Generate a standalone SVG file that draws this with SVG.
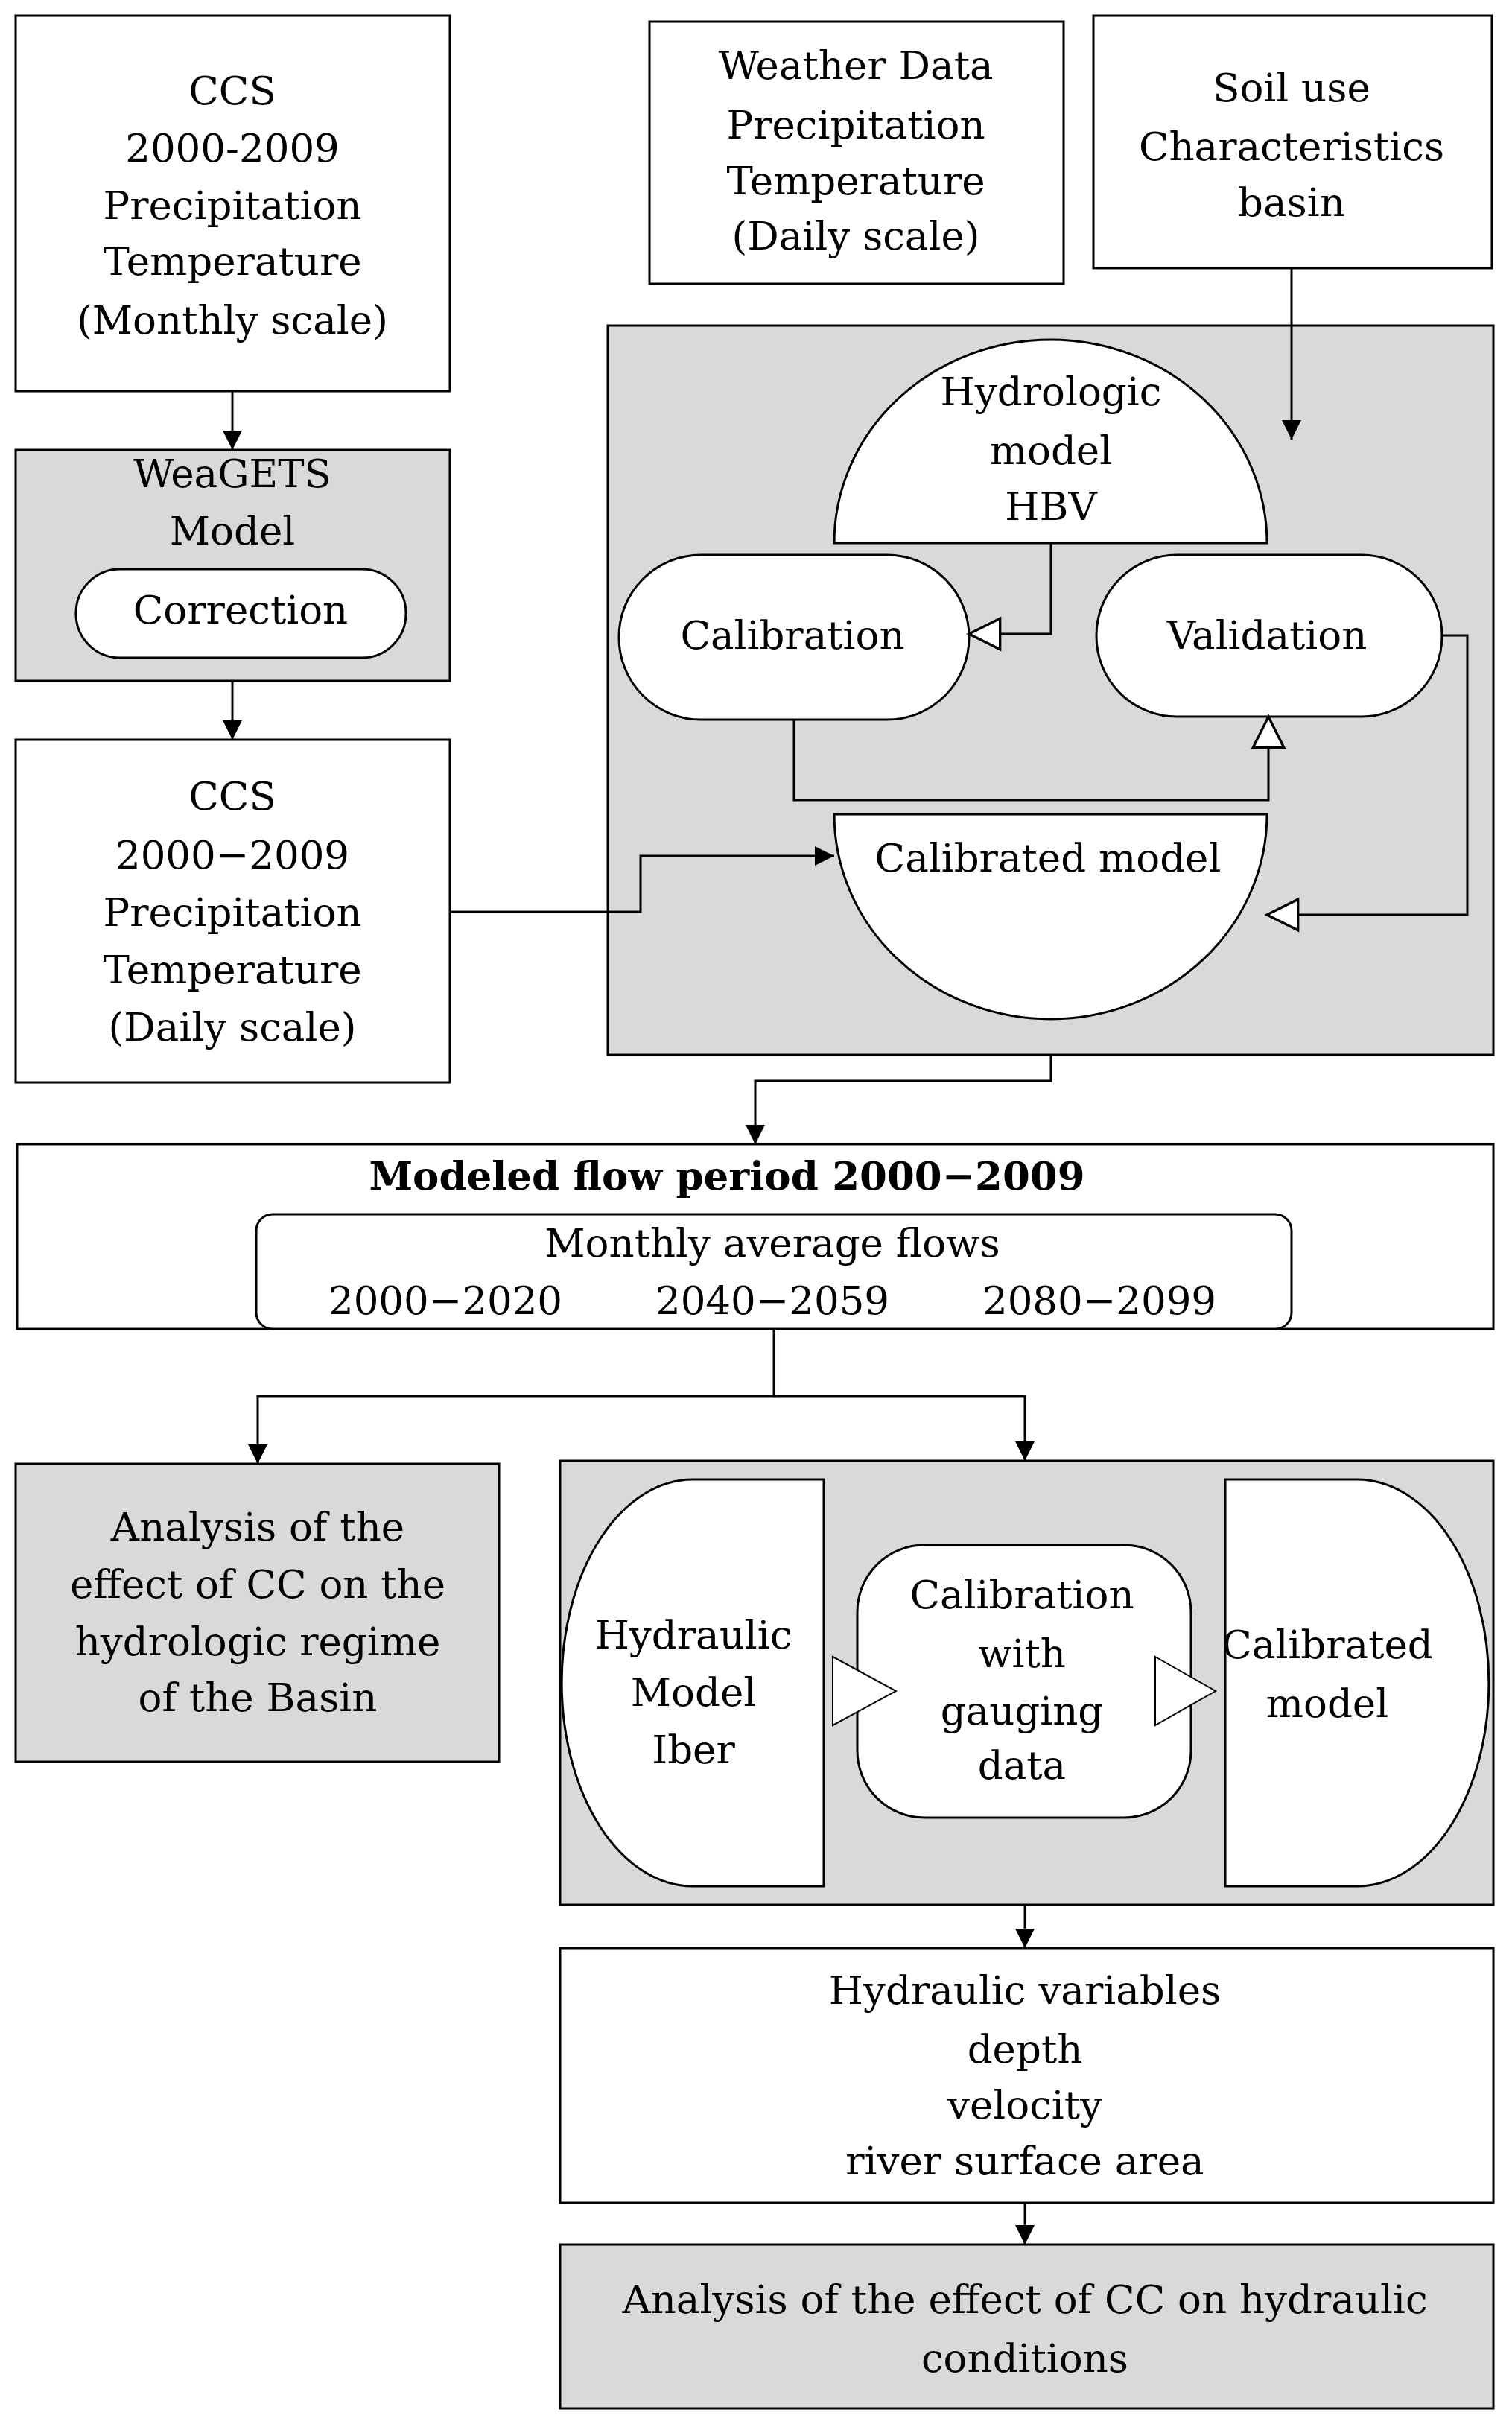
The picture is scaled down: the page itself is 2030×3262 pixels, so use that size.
<svg xmlns="http://www.w3.org/2000/svg" width="2030" height="3262" viewBox="0 0 2030 3262">
<style>
.w{fill:#fff;stroke:#000;stroke-width:3}
.g{fill:#d9d9d9;stroke:#000;stroke-width:3}
.c{fill:none;stroke:#000;stroke-width:3}
text{font-family:"DejaVu Serif","Liberation Serif",serif;font-size:53px;text-anchor:middle;dominant-baseline:central;fill:#000}
.b{font-weight:bold}
</style>
<defs>
<marker id="af" viewBox="0 0 10 10" refX="10" refY="5" markerWidth="26" markerHeight="26" markerUnits="userSpaceOnUse" orient="auto"><path d="M0,0L10,5L0,10Z" fill="#000"/></marker>
<marker id="h" viewBox="0 0 12 12" refX="11" refY="6" markerWidth="50" markerHeight="50" markerUnits="userSpaceOnUse" orient="auto"><path d="M1,1L11,6L1,11Z" fill="#fff" stroke="#000" stroke-width="0.8"/></marker>
</defs>
<g id="ccs-monthly"><rect class="w" x="21" y="21" width="583" height="504"/>
<text x="312" y="121">CCS</text><text x="312" y="198">2000-2009</text><text x="312" y="275">Precipitation</text><text x="312" y="350">Temperature</text><text x="312" y="429">(Monthly scale)</text></g>
<g id="weather"><rect class="w" x="872" y="29" width="556" height="352"/>
<text x="1149" y="87">Weather Data</text><text x="1149" y="167">Precipitation</text><text x="1149" y="242">Temperature</text><text x="1149" y="316">(Daily scale)</text></g>
<g id="soil"><rect class="w" x="1468" y="21" width="535" height="339"/>
<text x="1734" y="117">Soil use</text><text x="1734" y="196">Characteristics</text><text x="1734" y="271">basin</text></g>
<g id="hbv-container"><rect class="g" x="816" y="437" width="1189" height="979"/></g>
<g id="weagets"><rect class="g" x="21" y="604" width="583" height="310"/>
<text x="312" y="635">WeaGETS</text><text x="312" y="712">Model</text></g>
<g id="correction"><rect class="w" x="102" y="764" width="443" height="119" rx="59"/><text x="323" y="818">Correction</text></g>
<g id="ccs-daily"><rect class="w" x="21" y="993" width="583" height="460"/>
<text x="312" y="1068">CCS</text><text x="312" y="1147">2000−2009</text><text x="312" y="1224">Precipitation</text><text x="312" y="1301">Temperature</text><text x="312" y="1378">(Daily scale)</text></g>
<g id="hydrologic"><path class="w" d="M1120,729A290.5,273 0 0 1 1701,729Z"/>
<text x="1411" y="525">Hydrologic</text><text x="1411" y="604">model</text><text x="1411" y="679">HBV</text></g>
<g id="calibration"><rect class="w" x="831" y="745" width="470" height="221" rx="110"/><text x="1064" y="852">Calibration</text></g>
<g id="validation"><rect class="w" x="1472" y="745" width="464" height="217" rx="108"/><text x="1701" y="852">Validation</text></g>
<g id="calibrated"><path class="w" d="M1120,1093H1701A290.5,275 0 0 1 1120,1093Z"/><text x="1407" y="1151">Calibrated model</text></g>
<g id="modeled"><rect class="w" x="23" y="1536" width="1982" height="248"/>
<text class="b" x="976" y="1578">Modeled flow period 2000−2009</text>
<rect class="w" x="344" y="1630" width="1390" height="154" rx="22"/>
<text x="1037" y="1668">Monthly average flows</text>
<text x="598" y="1745">2000−2020</text><text x="1037" y="1745">2040−2059</text><text x="1476" y="1745">2080−2099</text></g>
<g id="analysis-hydrologic"><rect class="g" x="21" y="1965" width="649" height="400"/>
<text x="346" y="2049">Analysis of the</text><text x="346" y="2126">effect of CC on the</text><text x="346" y="2203">hydrologic regime</text><text x="346" y="2278">of the Basin</text></g>
<g id="hydraulic-container"><rect class="g" x="752" y="1961" width="1253" height="596"/></g>
<g id="hydraulic-model"><path class="w" d="M1106,1986H930A176,273 0 0 0 930,2532H1106Z"/>
<text x="931" y="2194">Hydraulic</text><text x="931" y="2271">Model</text><text x="931" y="2348">Iber</text></g>
<g id="calib-gauging"><rect class="w" x="1151" y="2074" width="448" height="366" rx="90"/>
<text x="1372" y="2140">Calibration</text><text x="1372" y="2219">with</text><text x="1372" y="2296">gauging</text><text x="1372" y="2369">data</text></g>
<g id="calibrated-hydraulic"><path class="w" d="M1645,1986H1822A177,273 0 0 1 1822,2532H1645Z"/>
<text x="1782" y="2207">Calibrated</text><text x="1782" y="2286">model</text></g>
<g id="hydraulic-vars"><rect class="w" x="752" y="2615" width="1253" height="342"/>
<text x="1376" y="2671">Hydraulic variables</text><text x="1376" y="2750">depth</text><text x="1376" y="2825">velocity</text><text x="1376" y="2900">river surface area</text></g>
<g id="analysis-hydraulic"><rect class="g" x="752" y="3013" width="1253" height="220"/>
<text x="1376" y="3086">Analysis of the effect of CC on hydraulic</text><text x="1376" y="3165">conditions</text></g>
<g id="connectors">
<path class="c" d="M312,525V604" marker-end="url(#af)"/>
<path class="c" d="M312,914V993" marker-end="url(#af)"/>
<path class="c" d="M604,1224H860V1149H1120" marker-end="url(#af)"/>
<path class="c" d="M1734,360V590" marker-end="url(#af)"/>
<path class="c" d="M1411,729V851H1301" marker-end="url(#h)"/>
<path class="c" d="M1066,966V1074H1703V962" marker-end="url(#h)"/>
<path class="c" d="M1936,853H1970V1228H1701" marker-end="url(#h)"/>
<path class="c" d="M1411,1416V1451H1014V1536" marker-end="url(#af)"/>
<path class="c" d="M1039,1784V1874H346V1965" marker-end="url(#af)"/>
<path class="c" d="M1039,1874H1376V1961" marker-end="url(#af)"/>
<polygon points="1118,2224 1203,2270 1118,2316" fill="#fff" stroke="#000" stroke-width="2"/>
<polygon points="1551,2224 1632,2270 1551,2316" fill="#fff" stroke="#000" stroke-width="2"/>
<path class="c" d="M1376,2557V2615" marker-end="url(#af)"/>
<path class="c" d="M1376,2957V3013" marker-end="url(#af)"/>
</g>
</svg>
